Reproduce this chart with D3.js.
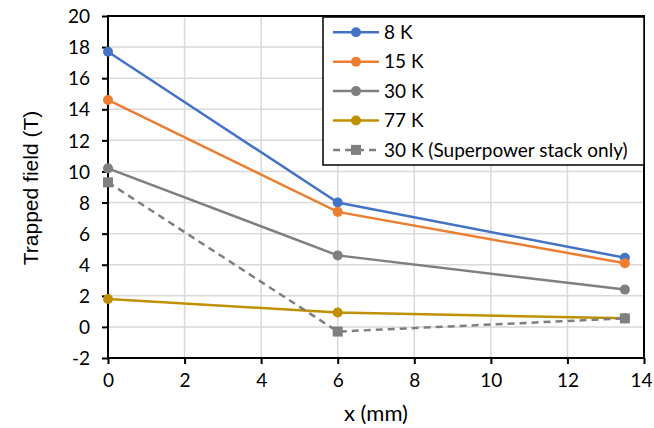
<!DOCTYPE html>
<html><head><meta charset="utf-8">
<script src="https://cdn.jsdelivr.net/npm/d3@7"></script>
<style>body{margin:0;background:#fff}svg{display:block}text{font-family:Lato,"Open Sans",sans-serif;fill:#000}</style>
</head><body><svg id="c" width="654" height="428"></svg>
<script>
const xPos = [0, 6, 13.5];
const seriesNames = ["8 K", "15 K", "30 K", "77 K", "30 K (Superpower stack only)"];
const v8K = [17.7, 8.0, 4.45];
const v15K = [14.6, 7.4, 4.1];
const v30K = [10.2, 4.6, 2.4];
const v77K = [1.8, 0.93, 0.55];
const vSP = [9.3, -0.3, 0.55];
const xTicks = [0, 2, 4, 6, 8, 10, 12, 14];
const yTicks = [-2, 0, 2, 4, 6, 8, 10, 12, 14, 16, 18, 20];
const colors = ["#4472C4", "#ED7D31", "#7F7F7F", "#BF9000", "#7F7F7F"];

const series = [v8K, v15K, v30K, v77K, vSP].map((vals, i) => ({
  name: seriesNames[i], vals, color: colors[i], dashed: i === 4, square: i === 4
}));

const svg = d3.select("#c");
const L = 108, T = 16, R = 644, B = 358;
const x = d3.scaleLinear().domain([0, 14]).range([L, R]);
const y = d3.scaleLinear().domain([-2, 20]).range([B, T]);
const fmt = d => String(d);

// grid
svg.append("g").selectAll("line.v").data(xTicks).join("line")
  .attr("x1", d => x(d)).attr("x2", d => x(d)).attr("y1", T).attr("y2", B)
  .attr("stroke", "#d9d9d9").attr("stroke-width", 1.5);
svg.append("g").selectAll("line.h").data(yTicks).join("line")
  .attr("x1", L).attr("x2", R).attr("y1", d => y(d)).attr("y2", d => y(d))
  .attr("stroke", "#d9d9d9").attr("stroke-width", 1.5);

// axes
const xa = svg.append("g").attr("transform", `translate(0,${B})`)
  .call(d3.axisBottom(x).tickValues(xTicks).tickSize(6).tickPadding(10).tickFormat(fmt));
const ya = svg.append("g").attr("transform", `translate(${L},0)`)
  .call(d3.axisLeft(y).tickValues(yTicks).tickSize(6).tickPadding(12).tickFormat(fmt));
[xa, ya].forEach(a => {
  a.select(".domain").remove();
  a.selectAll("line").attr("stroke", "#000").attr("stroke-width", 2);
  a.selectAll("text").style("font-size", "19px").attr("fill", "#000");
});
xa.selectAll("text").filter(d => d === 14).attr("dx", "-3");
ya.selectAll("text").attr("dy", "0.35em");
// plot border
svg.append("rect").attr("x", L).attr("y", T).attr("width", R - L).attr("height", B - T)
  .attr("fill", "none").attr("stroke", "#000").attr("stroke-width", 2);

// lines
const line = d3.line().x((d, i) => x(xPos[i])).y(d => y(d));
series.forEach(s => {
  svg.append("path").datum(s.vals).attr("d", line).attr("fill", "none")
    .attr("stroke", s.color).attr("stroke-width", 2.5)
    .attr("stroke-dasharray", s.dashed ? "7,5" : null);
  if (s.square) {
    svg.append("g").selectAll("rect").data(s.vals).join("rect")
      .attr("x", (d, i) => x(xPos[i]) - 5).attr("y", d => y(d) - 5)
      .attr("width", 10).attr("height", 10).attr("fill", s.color);
  } else {
    svg.append("g").selectAll("circle").data(s.vals).join("circle")
      .attr("cx", (d, i) => x(xPos[i])).attr("cy", d => y(d)).attr("r", 5)
      .attr("fill", s.color);
  }
});

// legend
const lg = svg.append("g");
lg.append("rect").attr("x", 323).attr("y", 17).attr("width", 321).attr("height", 148)
  .attr("fill", "#fff").attr("stroke", "#000").attr("stroke-width", 1.5);
series.forEach((s, i) => {
  const cy = 32.3 + i * 29.4;
  lg.append("line").attr("x1", 333).attr("x2", 379).attr("y1", cy).attr("y2", cy)
    .attr("stroke", s.color).attr("stroke-width", 2.5)
    .attr("stroke-dasharray", s.dashed ? "7,5" : null);
  if (s.square) lg.append("rect").attr("x", 351).attr("y", cy - 5).attr("width", 10).attr("height", 10).attr("fill", s.color);
  else lg.append("circle").attr("cx", 356).attr("cy", cy).attr("r", 5).attr("fill", s.color);
  lg.append("text").attr("x", 384).attr("y", cy).attr("dy", "0.35em")
    .style("font-size", "19px").text(s.name);
});

// titles
svg.append("text").attr("x", 376).attr("y", 421).attr("text-anchor", "middle")
  .style("font-size", "22px").text("x (mm)");
svg.append("text").attr("transform", "translate(38,188) rotate(-90)").attr("text-anchor", "middle")
  .style("font-size", "21px").style("font-family", "'Liberation Sans', Arial, sans-serif")
  .text("Trapped field (T)");
</script></body></html>
